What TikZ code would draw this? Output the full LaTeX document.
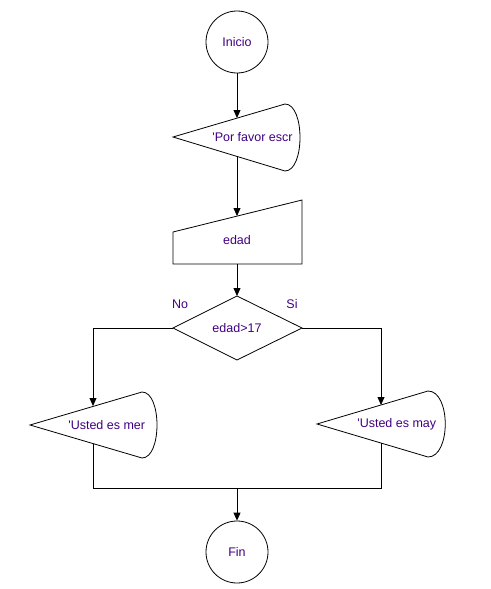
\documentclass[tikz,border=0pt]{standalone}
\usepackage{fontspec}
\setmainfont{Liberation Sans}
\usetikzlibrary{arrows.meta}
\definecolor{txtcol}{RGB}{64,0,128}
\begin{document}
\begin{tikzpicture}[x=1pt,y=-1pt,line width=0.8pt,
  txt/.style={text=txtcol,font=\fontsize{12.5}{14}\selectfont,inner sep=0pt},
  arr/.style={-{Triangle[width=7pt,length=8pt]}},
  term/.style={draw,circle,minimum size=62pt,txt}]
\useasboundingbox (0,0) rectangle (490,589);
% terminals
\node[term] (ini) at (237,42) {Inicio};
\node[term] (fin) at (237,552) {Fin};
% display 1
\draw (173,137) -- (285,104) .. controls (305,104) and (305,171) .. (285,171) -- cycle;
\begin{scope}
\clip (200,100) rectangle (296,175);
\node[txt,anchor=west] (d1) at (212,137) {\textquotesingle Por favor escr};
\end{scope}
% manual input
\draw (173,232) -- (302,200) -- (302,264) -- (173,264) -- cycle;
\node[txt] (m) at (237,240) {edad};
% decision
\draw (237,296) -- (302,328) -- (237,360) -- (173,328) -- cycle;
\node[txt] (dec) at (237,328) {edad>17};
\node[txt] (no) at (180,304) {No};
\node[txt] (si) at (292,304) {Si};
% display 2
\draw (30,425) -- (142,392) .. controls (162,392) and (162,458) .. (142,458) -- cycle;
\begin{scope}
\clip (60,390) rectangle (150,460);
\node[txt,anchor=west] (d2) at (68,425) {\textquotesingle Usted es mer};
\end{scope}
% display 3
\draw (317,424) -- (428,391) .. controls (451,391) and (451,457) .. (428,457) -- cycle;
\begin{scope}
\clip (350,390) rectangle (439,460);
\node[txt,anchor=west] (d3) at (357,424) {\textquotesingle Usted es may};
\end{scope}
% connector points
\coordinate (d1t) at (237,118);
\coordinate (d1b) at (237,156);
\coordinate (mt) at (237,216);
\coordinate (mb) at (237,264);
\coordinate (dt) at (237,296);
\coordinate (dl) at (173,328);
\coordinate (dr) at (302,328);
\coordinate (d2t) at (93,406);
\coordinate (d2b) at (93,444);
\coordinate (d3t) at (381,405);
\coordinate (d3b) at (381,443);
\coordinate (jl) at (93,488);
\coordinate (jr) at (381,488);
\coordinate (jm) at (237,488);
% connectors
\draw[arr] (ini.south) -- (d1t);
\draw[arr] (d1b) -- (mt);
\draw[arr] (mb) -- (dt);
\draw[arr] (dl) -| (d2t);
\draw[arr] (dr) -| (d3t);
\draw (d2b) -- (jl) -- (jr) -- (d3b);
\draw[arr] (jm) -- (fin.north);
\end{tikzpicture}
\end{document}
